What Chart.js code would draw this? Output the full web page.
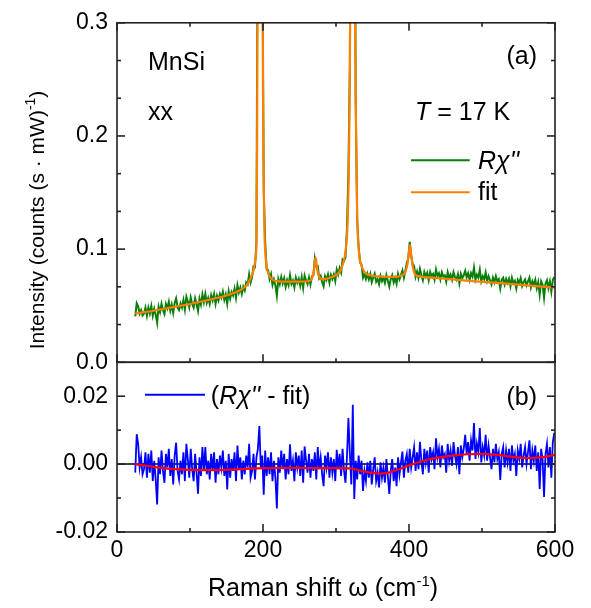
<!DOCTYPE html>
<html>
<head>
<meta charset="utf-8">
<script src="https://cdn.jsdelivr.net/npm/chart.js@4.4.0/dist/chart.umd.min.js"></script>
<style>
  html, body { margin: 0; padding: 0; background: #fff; }
  #grafico { display: block; }
</style>
</head>
<body>
<canvas id="grafico" width="591" height="608"></canvas>
<script>
// === DADOS =================================================================
// deslocamento Raman (cm^-1) das medidas
const ramanShift = [
  25, 27, 29, 31, 33, 35, 37, 39, 41, 43, 45, 47, 49, 51, 53, 55,
  57, 59, 61, 63, 65, 67, 69, 71, 73, 75, 77, 79, 81, 83, 85, 87,
  89, 91, 93, 95, 97, 99, 101, 103, 105, 107, 109, 111, 113, 115, 117, 119,
  121, 123, 125, 127, 129, 131, 133, 135, 137, 139, 141, 143, 145, 147, 149, 151,
  153, 155, 157, 159, 161, 163, 165, 167, 169, 171, 173, 175, 177, 179, 181, 183,
  185, 187, 189, 191, 193, 195, 197, 199, 201, 203, 205, 207, 209, 211, 213, 215,
  217, 219, 221, 223, 225, 227, 229, 231, 233, 235, 237, 239, 241, 243, 245, 247,
  249, 251, 253, 255, 257, 259, 261, 263, 265, 267, 269, 271, 273, 275, 277, 279,
  281, 283, 285, 287, 289, 291, 293, 295, 297, 299, 301, 303, 305, 307, 309, 311,
  313, 315, 317, 319, 321, 323, 325, 327, 329, 331, 333, 335, 337, 339, 341, 343,
  345, 347, 349, 351, 353, 355, 357, 359, 361, 363, 365, 367, 369, 371, 373, 375,
  377, 379, 381, 383, 385, 387, 389, 391, 393, 395, 397, 399, 401, 403, 405, 407,
  409, 411, 413, 415, 417, 419, 421, 423, 425, 427, 429, 431, 433, 435, 437, 439,
  441, 443, 445, 447, 449, 451, 453, 455, 457, 459, 461, 463, 465, 467, 469, 471,
  473, 475, 477, 479, 481, 483, 485, 487, 489, 491, 493, 495, 497, 499, 501, 503,
  505, 507, 509, 511, 513, 515, 517, 519, 521, 523, 525, 527, 529, 531, 533, 535,
  537, 539, 541, 543, 545, 547, 549, 551, 553, 555, 557, 559, 561, 563, 565, 567,
  569, 571, 573, 575, 577, 579, 581, 583, 585, 587, 589, 591, 593, 595, 597, 599
];

// R chi'' (painel a)
const rChi = [
  0.0405, 0.0521, 0.0495, 0.0428, 0.0460, 0.0413, 0.0430, 0.0483, 0.0411, 0.0483, 0.0431, 0.0498, 0.0411, 0.0473, 0.0421, 0.0349,
  0.0491, 0.0444, 0.0516, 0.0459, 0.0426, 0.0514, 0.0476, 0.0534, 0.0456, 0.0509, 0.0437, 0.0524, 0.0565, 0.0484, 0.0462, 0.0519,
  0.0482, 0.0550, 0.0467, 0.0580, 0.0537, 0.0485, 0.0572, 0.0515, 0.0482, 0.0565, 0.0513, 0.0453, 0.0563, 0.0510, 0.0598, 0.0530,
  0.0603, 0.0525, 0.0568, 0.0516, 0.0593, 0.0546, 0.0603, 0.0516, 0.0588, 0.0546, 0.0604, 0.0571, 0.0624, 0.0551, 0.0599, 0.0518,
  0.0627, 0.0562, 0.0621, 0.0591, 0.0651, 0.0570, 0.0680, 0.0618, 0.0661, 0.0604, 0.0667, 0.0635, 0.0706, 0.0687, 0.0778, 0.0704,
  0.0750, 0.0847, 0.0840, 0.1070, 0.4545, 1.0112, 0.9990, 0.4025, 0.1510, 0.1065, 0.0820, 0.0815, 0.0735, 0.0779, 0.0683, 0.0732,
  0.0680, 0.0587, 0.0736, 0.0690, 0.0753, 0.0697, 0.0742, 0.0667, 0.0727, 0.0682, 0.0770, 0.0692, 0.0722, 0.0662, 0.0747, 0.0702,
  0.0737, 0.0677, 0.0753, 0.0658, 0.0766, 0.0725, 0.0690, 0.0750, 0.0687, 0.0760, 0.0770, 0.0915, 0.0845, 0.0850, 0.0742, 0.0763,
  0.0707, 0.0671, 0.0762, 0.0729, 0.0776, 0.0705, 0.0773, 0.0735, 0.0777, 0.0717, 0.0819, 0.0775, 0.0833, 0.0793, 0.0908, 0.0893,
  0.0925, 0.1180, 0.1686, 0.2630, 0.6940, 1.0175, 0.5897, 0.2310, 0.1255, 0.1025, 0.0883, 0.0863, 0.0748, 0.0780, 0.0735, 0.0783,
  0.0733, 0.0780, 0.0707, 0.0749, 0.0783, 0.0711, 0.0735, 0.0689, 0.0763, 0.0717, 0.0747, 0.0701, 0.0771, 0.0721, 0.0668, 0.0735,
  0.0770, 0.0705, 0.0746, 0.0693, 0.0781, 0.0733, 0.0771, 0.0811, 0.0747, 0.0810, 0.0877, 0.0918, 0.1064, 0.0940, 0.0870, 0.0850,
  0.0755, 0.0802, 0.0746, 0.0825, 0.0767, 0.0725, 0.0798, 0.0757, 0.0791, 0.0725, 0.0799, 0.0762, 0.0781, 0.0730, 0.0820, 0.0763,
  0.0787, 0.0731, 0.0795, 0.0759, 0.0768, 0.0712, 0.0796, 0.0745, 0.0774, 0.0728, 0.0796, 0.0755, 0.0729, 0.0778, 0.0697, 0.0781,
  0.0745, 0.0769, 0.0809, 0.0752, 0.0786, 0.0729, 0.0788, 0.0757, 0.0837, 0.0730, 0.0774, 0.0748, 0.0818, 0.0716, 0.0760, 0.0734,
  0.0794, 0.0717, 0.0761, 0.0725, 0.0689, 0.0748, 0.0707, 0.0761, 0.0715, 0.0734, 0.0652, 0.0728, 0.0747, 0.0687, 0.0736, 0.0700,
  0.0738, 0.0672, 0.0746, 0.0700, 0.0719, 0.0653, 0.0727, 0.0701, 0.0745, 0.0674, 0.0708, 0.0732, 0.0680, 0.0714, 0.0748, 0.0662,
  0.0716, 0.0685, 0.0729, 0.0653, 0.0707, 0.0598, 0.0715, 0.0684, 0.0571, 0.0697, 0.0726, 0.0655, 0.0714, 0.0623, 0.0727, 0.0753
];

// (R chi'' - fit) (painel b)
const residuo = [
  -0.0025, 0.0088, 0.0060, -0.0010, 0.0020, -0.0030, -0.0015, 0.0035, -0.0040, 0.0030, -0.0025, 0.0040, -0.0050, 0.0010, -0.0045, -0.0119,
  0.0020, -0.0030, 0.0040, -0.0020, -0.0055, 0.0030, -0.0010, 0.0045, -0.0035, 0.0015, -0.0060, 0.0025, 0.0063, -0.0020, -0.0045, 0.0010,
  -0.0030, 0.0035, -0.0050, 0.0060, 0.0015, -0.0040, 0.0045, -0.0015, -0.0050, 0.0030, -0.0025, -0.0087, 0.0020, -0.0035, 0.0050, -0.0020,
  0.0050, -0.0030, 0.0010, -0.0045, 0.0030, -0.0020, 0.0035, -0.0055, 0.0015, -0.0030, 0.0025, -0.0010, 0.0040, -0.0035, 0.0010, -0.0075,
  0.0030, -0.0040, 0.0015, -0.0020, 0.0035, -0.0050, 0.0055, -0.0015, 0.0020, -0.0045, 0.0010, -0.0030, 0.0025, -0.0010, 0.0060, -0.0040,
  -0.0020, 0.0030, -0.0045, 0.0020, 0.0045, 0.0112, -0.0010, 0.0025, -0.0090, 0.0040, -0.0035, 0.0020, -0.0030, 0.0035, -0.0050, 0.0010,
  -0.0040, -0.0131, 0.0020, -0.0025, 0.0040, -0.0015, 0.0030, -0.0045, 0.0015, -0.0030, 0.0058, -0.0020, 0.0010, -0.0050, 0.0035, -0.0010,
  0.0025, -0.0035, 0.0040, -0.0055, 0.0052, 0.0010, -0.0025, 0.0030, -0.0040, 0.0015, -0.0020, 0.0035, -0.0045, 0.0050, -0.0015, 0.0020,
  -0.0030, -0.0065, 0.0025, -0.0010, 0.0035, -0.0040, 0.0020, -0.0025, 0.0015, -0.0050, 0.0042, -0.0015, 0.0030, -0.0035, 0.0045, -0.0020,
  -0.0055, 0.0020, 0.0136, 0.0030, -0.0060, 0.0175, -0.0103, 0.0010, -0.0045, 0.0025, -0.0030, 0.0010, -0.0079, -0.0020, -0.0050, 0.0005,
  -0.0040, 0.0010, -0.0060, -0.0015, 0.0020, -0.0050, -0.0025, -0.0069, 0.0005, -0.0040, -0.0010, -0.0055, 0.0015, -0.0035, -0.0088, -0.0020,
  0.0015, -0.0050, -0.0010, -0.0065, 0.0020, -0.0030, 0.0005, 0.0037, -0.0040, 0.0010, 0.0030, -0.0025, 0.0045, -0.0010, 0.0020, 0.0050,
  -0.0020, 0.0035, -0.0015, 0.0066, 0.0010, -0.0030, 0.0045, 0.0005, 0.0040, -0.0025, 0.0050, 0.0015, 0.0035, -0.0015, 0.0076, 0.0020,
  0.0045, -0.0010, 0.0055, 0.0020, 0.0030, -0.0025, 0.0060, 0.0010, 0.0040, -0.0005, 0.0065, 0.0025, 0.0000, 0.0050, -0.0030, 0.0055,
  0.0020, 0.0045, 0.0086, 0.0030, 0.0065, 0.0010, 0.0070, 0.0040, 0.0121, 0.0015, 0.0060, 0.0035, 0.0106, 0.0005, 0.0050, 0.0025,
  0.0086, 0.0010, 0.0055, 0.0020, -0.0015, 0.0045, 0.0005, 0.0060, 0.0015, 0.0035, -0.0047, 0.0030, 0.0050, -0.0010, 0.0040, 0.0005,
  0.0045, -0.0020, 0.0055, 0.0010, 0.0030, -0.0035, 0.0040, 0.0015, 0.0060, -0.0010, 0.0025, 0.0050, 0.0000, 0.0035, 0.0070, -0.0015,
  0.0040, 0.0010, 0.0055, -0.0020, 0.0035, -0.0073, 0.0045, 0.0015, -0.0097, 0.0030, 0.0060, -0.0010, 0.0050, -0.0040, 0.0065, 0.0092
];

// curva do ajuste (fit)
const fitShift = [
  25, 50, 75, 100, 125, 150, 165, 175, 180, 185,
  188, 190, 191, 192, 193, 195, 197, 199, 200, 201,
  202, 204, 206, 210, 215, 230, 250, 262, 266, 268,
  270, 271, 272, 273, 274, 276, 278, 282, 290, 300,
  306, 310, 313, 316, 318, 319, 320, 321.5, 323.5, 325,
  326, 327, 329, 331, 334, 340, 350, 360, 380, 390,
  395, 398, 400, 401.5, 403, 405, 408, 412, 430, 460,
  500, 530, 560, 600
];
const fitIntensity = [
  0.0430, 0.0455, 0.0485, 0.0515, 0.0550, 0.0590, 0.0625, 0.0665, 0.0705, 0.0770,
  0.0840, 0.0930, 0.1050, 0.2000, 0.4500, 1.0000, 1.0000, 0.4000, 0.2400, 0.1600,
  0.1150, 0.0900, 0.0810, 0.0750, 0.0722, 0.0712, 0.0712, 0.0716, 0.0730, 0.0760,
  0.0820, 0.0880, 0.0925, 0.0890, 0.0830, 0.0770, 0.0745, 0.0735, 0.0742, 0.0770,
  0.0810, 0.0880, 0.0980, 0.1250, 0.1900, 0.2600, 0.4000, 0.9000, 1.0000, 0.6000,
  0.3300, 0.2300, 0.1300, 0.1000, 0.0870, 0.0790, 0.0765, 0.0758, 0.0755, 0.0768,
  0.0800, 0.0870, 0.0980, 0.1036, 0.0950, 0.0850, 0.0780, 0.0762, 0.0748, 0.0732,
  0.0710, 0.0697, 0.0680, 0.0660
];

// curva suave vermelha do residuo
const suaveShift = [
  25, 50, 75, 100, 125, 150, 175, 200, 225, 250,
  275, 300, 320, 335, 350, 360, 370, 385, 400, 420,
  440, 460, 480, 500, 520, 540, 560, 580, 600
];
const suaveResiduo = [
  0.0000, -0.0008, -0.0014, -0.0017, -0.0018, -0.0017, -0.0014, -0.0012, -0.0011, -0.0011,
  -0.0012, -0.0012, -0.0013, -0.0020, -0.0026, -0.0028, -0.0026, -0.0016, -0.0004, 0.0010,
  0.0019, 0.0025, 0.0029, 0.0030, 0.0027, 0.0022, 0.0018, 0.0020, 0.0027
];

// ticks
const xTicks   = [0, 200, 400, 600];
const xMinor   = [100, 300, 500];
const topTicks = [0, 0.1, 0.2, 0.3];
const topMinor = [0.1 / 3, 0.2 / 3, 0.4 / 3, 0.5 / 3, 0.7 / 3, 0.8 / 3];
const botTicks = [-0.02, 0, 0.02];
const botMinor = [-0.01, 0.01];

// === HELPERS ===============================================================
const FONTE = '"Liberation Sans", Arial, sans-serif';
const fN  = `25px ${FONTE}`;
const fI  = `italic 25px ${FONTE}`;
const fX  = `25px ${FONTE}`;
const fY  = `21px ${FONTE}`;
const fS  = `15px ${FONTE}`;
const fSy = `14px ${FONTE}`;

const pares = (xs, ys) => xs.map((x, i) => ({ x, y: ys[i] }));

function desenhaTrechos(ctx, trechos, x, y, alinha) {
  let largura = 0;
  trechos.forEach(([t, f]) => { ctx.font = f; largura += ctx.measureText(t).width; });
  let cx = alinha === 'right' ? x - largura : alinha === 'center' ? x - largura / 2 : x;
  trechos.forEach(([t, f, dy = 0]) => {
    ctx.font = f;
    ctx.fillText(t, cx, y + dy);
    cx += ctx.measureText(t).width;
  });
}

function linha(ctx, x1, y1, x2, y2) {
  ctx.beginPath();
  ctx.moveTo(x1, y1);
  ctx.lineTo(x2, y2);
  ctx.stroke();
}

// === PLUGINS ===============================================================
const molduraPlugin = {
  id: 'moldura',
  beforeDatasetsDraw(chart) {
    const { ctx, chartArea: a, scales: { yBot } } = chart;
    ctx.save();
    ctx.strokeStyle = '#000';
    ctx.lineWidth = 1.5;
    const y0 = yBot.getPixelForValue(0);
    linha(ctx, a.left, y0, a.right, y0);   // linha do zero no painel (b)
    ctx.restore();
  },
  afterDatasetsDraw(chart) {
    const { ctx, chartArea: a, scales: { x, yTop, yBot } } = chart;
    ctx.save();
    ctx.strokeStyle = '#222';
    ctx.lineWidth = 1.6;
    ctx.strokeRect(a.left, yTop.top, a.right - a.left, yTop.bottom - yTop.top);
    ctx.strokeRect(a.left, yBot.top, a.right - a.left, yBot.bottom - yBot.top);

    const MAIOR = 8, MENOR = 4;
    // ticks do eixo x (para dentro)
    const xMarcas = (vals, len) => vals.forEach(v => {
      const px = x.getPixelForValue(v);
      linha(ctx, px, yTop.top, px, yTop.top + len);
      linha(ctx, px, yTop.bottom, px, yTop.bottom - len);
      linha(ctx, px, yBot.bottom, px, yBot.bottom - len);
    });
    xMarcas(xTicks, MAIOR);
    xMarcas(xMinor, MENOR);

    // ticks dos eixos y (esquerda e direita)
    const yMarcas = (escala, vals, len) => vals.forEach(v => {
      const py = escala.getPixelForValue(v);
      linha(ctx, a.left, py, a.left + len, py);
      linha(ctx, a.right, py, a.right - len, py);
    });
    yMarcas(yTop, topTicks, MAIOR);
    yMarcas(yTop, topMinor, MENOR);
    yMarcas(yBot, botTicks, MAIOR);
    yMarcas(yBot, botMinor, MENOR);
    ctx.restore();
  }
};

const textosPlugin = {
  id: 'textos',
  afterDraw(chart) {
    const { ctx, scales: { x, yTop, yBot } } = chart;
    ctx.save();
    ctx.fillStyle = '#000';
    ctx.textAlign = 'left';
    ctx.textBaseline = 'alphabetic';

    // painel (a)
    desenhaTrechos(ctx, [['MnSi', fN]], x.getPixelForValue(42.5), yTop.getPixelForValue(0.258), 'left');
    desenhaTrechos(ctx, [['xx', fN]], x.getPixelForValue(42.5), yTop.getPixelForValue(0.2144), 'left');
    desenhaTrechos(ctx, [['(a)', fN]], x.getPixelForValue(575.3), yTop.getPixelForValue(0.2633), 'right');
    desenhaTrechos(ctx, [['T', fI], [' = 17 K', fN]], x.getPixelForValue(408.2), yTop.getPixelForValue(0.2144), 'left');

    // legenda (a)
    ctx.lineWidth = 2;
    ctx.strokeStyle = '#0a7f0a';
    linha(ctx, x.getPixelForValue(402.7), yTop.getPixelForValue(0.1785), x.getPixelForValue(483.2), yTop.getPixelForValue(0.1785));
    ctx.strokeStyle = '#ff8000';
    linha(ctx, x.getPixelForValue(402.7), yTop.getPixelForValue(0.1503), x.getPixelForValue(483.2), yTop.getPixelForValue(0.1503));
    desenhaTrechos(ctx, [["R\u03C7''", fI]], x.getPixelForValue(494.5), yTop.getPixelForValue(0.1707), 'left');
    desenhaTrechos(ctx, [['fit', fN]], x.getPixelForValue(494.5), yTop.getPixelForValue(0.143), 'left');

    // painel (b)
    ctx.strokeStyle = '#0000ff';
    linha(ctx, x.getPixelForValue(38.4), yBot.getPixelForValue(0.0204), x.getPixelForValue(120.5), yBot.getPixelForValue(0.0204));
    desenhaTrechos(ctx, [['(', fN], ["R\u03C7''", fI], [' - fit)', fN]], x.getPixelForValue(128.5), yBot.getPixelForValue(0.0176), 'left');
    desenhaTrechos(ctx, [['(b)', fN]], x.getPixelForValue(575.3), yBot.getPixelForValue(0.0173), 'right');

    // titulo do eixo x
    desenhaTrechos(ctx, [['Raman shift \u03C9 (cm', fX], ['-1', fS, -10], [')', fX]], 323, 596, 'center');

    // titulo do eixo y (rotacionado)
    ctx.translate(44, 220);
    ctx.rotate(-Math.PI / 2);
    desenhaTrechos(ctx, [['Intensity (counts (s \u00B7 mW)', fY], ['-1', fSy, -9], [')', fY]], 0, 0, 'center');
    ctx.restore();
  }
};

// === CHART =================================================================
const eixoY = (extra) => Object.assign({
  type: 'linear',
  position: 'left',
  stack: 'paineis',
  grid: { display: false, drawTicks: false },
  border: { display: false },
  afterFit: s => { s.width = 117; }
}, extra);

const ticksY = (casas) => ({
  color: '#000', padding: 9, autoSkip: false,
  font: { family: FONTE, size: 23 },
  callback: v => v.toFixed(casas)
});

const grafico = new Chart(document.getElementById('grafico'), {
  type: 'line',
  data: {
    datasets: [
      { label: 'fit', data: pares(fitShift, fitIntensity), yAxisID: 'yTop', order: 1,
        borderColor: '#ff8000', borderWidth: 2.2, cubicInterpolationMode: 'monotone' },
      { label: "R\u03C7''", data: pares(ramanShift, rChi), yAxisID: 'yTop', order: 2,
        borderColor: '#0a7f0a', borderWidth: 2 },
      { label: 'suave', data: pares(suaveShift, suaveResiduo), yAxisID: 'yBot', order: 3,
        borderColor: '#ff0000', borderWidth: 2.2, cubicInterpolationMode: 'monotone' },
      { label: "(R\u03C7'' - fit)", data: pares(ramanShift, residuo), yAxisID: 'yBot', order: 4,
        borderColor: '#0000ff', borderWidth: 1.8 }
    ]
  },
  options: {
    responsive: false,
    animation: false,
    layout: { padding: { left: 0, top: 17, right: 36, bottom: 0 } },
    elements: { point: { radius: 0 }, line: { tension: 0 } },
    plugins: { legend: { display: false }, tooltip: { enabled: false } },
    scales: {
      x: {
        type: 'linear', position: 'bottom', min: 0, max: 600,
        afterBuildTicks: s => { s.ticks = xTicks.map(v => ({ value: v })); },
        grid: { display: false, drawTicks: false },
        border: { display: false },
        ticks: { color: '#000', padding: 5, maxRotation: 0, font: { family: FONTE, size: 23 } },
        afterFit: s => { s.height = 76; }
      },
      yBot: eixoY({
        stackWeight: 1, min: -0.02, max: 0.03,
        afterBuildTicks: s => { s.ticks = botTicks.map(v => ({ value: v })); },
        ticks: ticksY(2)
      }),
      yTop: eixoY({
        stackWeight: 2, min: 0, max: 0.3,
        afterBuildTicks: s => { s.ticks = topTicks.map(v => ({ value: v })); },
        ticks: ticksY(1)
      })
    }
  },
  plugins: [molduraPlugin, textosPlugin]
});
</script>
</body>
</html>
